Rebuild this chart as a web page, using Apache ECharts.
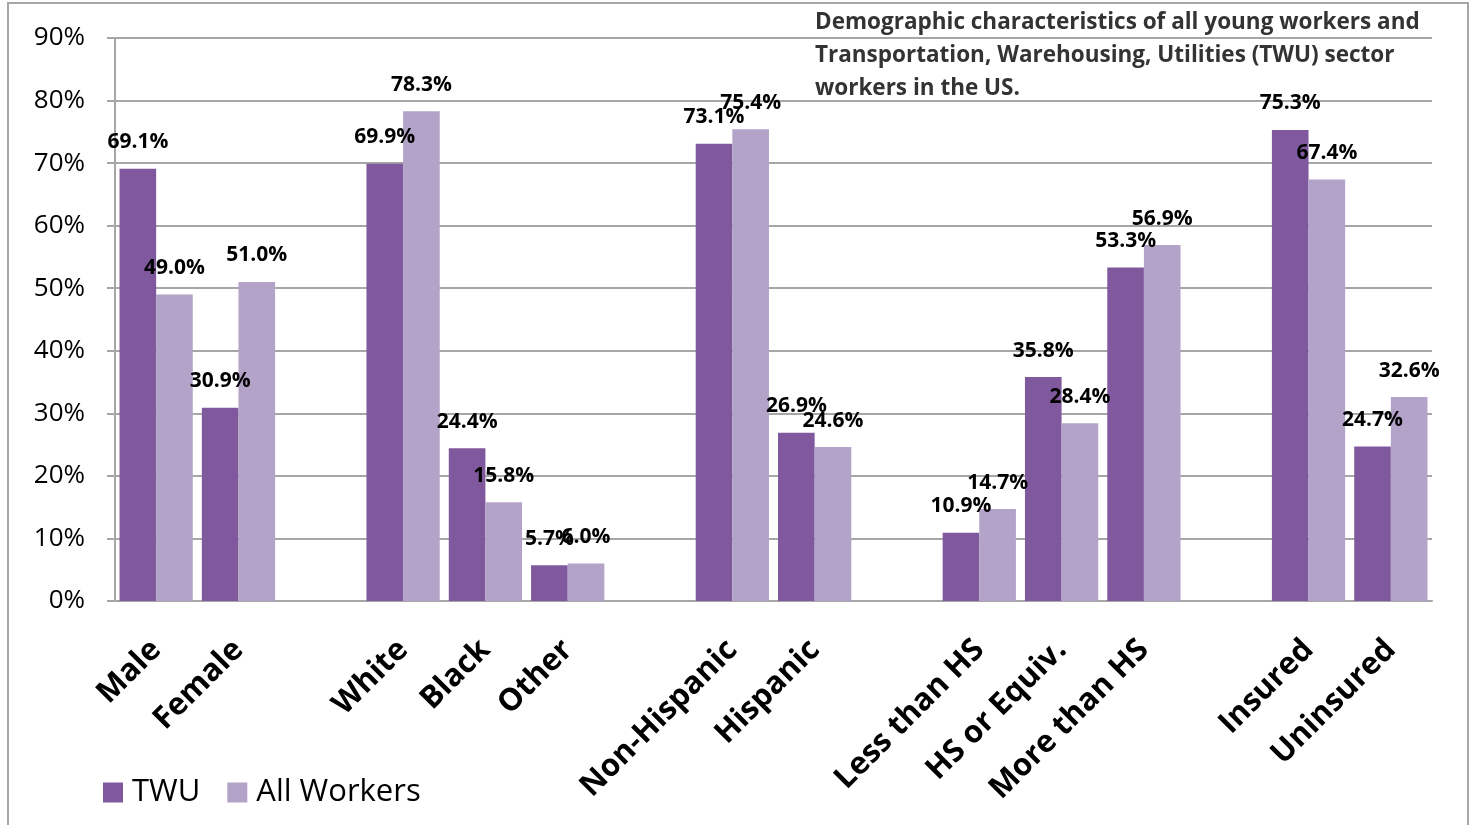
<!DOCTYPE html>
<html>
<head>
<meta charset="utf-8">
<script src="https://cdn.jsdelivr.net/npm/echarts@6/dist/echarts.min.js"></script>
<style>
  html, body { margin: 0; padding: 0; background: #fff; }
  #main { width: 1474px; height: 825px; }
</style>
</head>
<body>
<div id="main"></div>
<script>
// categories ('' = empty gap slot between groups)
const categories = ['Male', 'Female', '', 'White', 'Black', 'Other', '', 'Non-Hispanic', 'Hispanic', '',
  'Less than HS', 'HS or Equiv.', 'More than HS', '', 'Insured', 'Uninsured']
const twuValues = [69.1, 30.9, null, 69.9, 24.4, 5.7, null, 73.1, 26.9, null, 10.9, 35.8, 53.3, null, 75.3, 24.7]
const allWorkersValues = [49.0, 51.0, null, 78.3, 15.8, 6.0, null, 75.4, 24.6, null, 14.7, 28.4, 56.9, null, 67.4, 32.6]
const seriesNames = ['TWU', 'All Workers']
const titleText = 'Demographic characteristics of all young workers and\nTransportation, Warehousing, Utilities (TWU) sector\nworkers in the US.'

const font = '"Open Sans", "Noto Sans", sans-serif'

let myChart = echarts.init(document.getElementById('main'))

const barLabel = {
  show: true,
  position: 'top',
  distance: 16,
  color: '#000',
  fontFamily: font,
  fontWeight: 'bold',
  fontSize: 21,
  formatter: (p) => p.value.toFixed(1) + '%'
}

myChart.setOption({
  animation: false,
  color: ['#7f589e', '#b3a3c8'],
  title: {
    text: titleText,
    left: 810,
    top: 1,
    textStyle: {
      color: '#333',
      fontFamily: font,
      fontWeight: 'bold',
      fontSize: 22.5,
      lineHeight: 33
    }
  },
  legend: {
    data: seriesNames,
    left: 98,
    top: 772,
    itemWidth: 20,
    itemHeight: 20,
    itemGap: 27,
    icon: 'rect',
    textStyle: {
      color: '#000',
      fontFamily: font,
      fontSize: 31,
      padding: [0, 0, 0, 4]
    }
  },
  graphic: [
    {
      type: 'rect',
      shape: { x: 8, y: 3, width: 1460, height: 840 },
      style: { fill: null, stroke: '#a6a6a6', lineWidth: 2 },
      silent: true
    }
  ],
  grid: {
    left: 115,
    right: 42,
    top: 38,
    bottom: 224
  },
  xAxis: {
    type: 'category',
    data: categories,
    axisLine: { lineStyle: { color: '#a6a6a6', width: 2 } },
    axisTick: { show: false },
    axisLabel: {
      interval: 0,
      rotate: 45,
      margin: 44,
      color: '#000',
      fontFamily: font,
      fontWeight: 'bold',
      fontSize: 31
    }
  },
  yAxis: {
    type: 'value',
    min: 0,
    max: 90,
    interval: 10,
    axisLine: { show: true, lineStyle: { color: '#a6a6a6', width: 2 } },
    axisTick: { show: true, length: 8, lineStyle: { color: '#a6a6a6', width: 2 } },
    axisLabel: {
      formatter: '{value}%',
      margin: 30,
      padding: [8, 0, 0, 0],
      color: '#000',
      fontFamily: font,
      fontSize: 26
    },
    splitLine: { lineStyle: { color: '#a6a6a6', width: 2 } }
  },
  series: [
    {
      name: seriesNames[0],
      type: 'bar',
      data: twuValues,
      barGap: '0%',
      barCategoryGap: '11%',
      label: barLabel
    },
    {
      name: seriesNames[1],
      type: 'bar',
      data: allWorkersValues,
      barGap: '0%',
      barCategoryGap: '11%',
      label: barLabel
    }
  ]
})
myChart.resize()
</script>
</body>
</html>
